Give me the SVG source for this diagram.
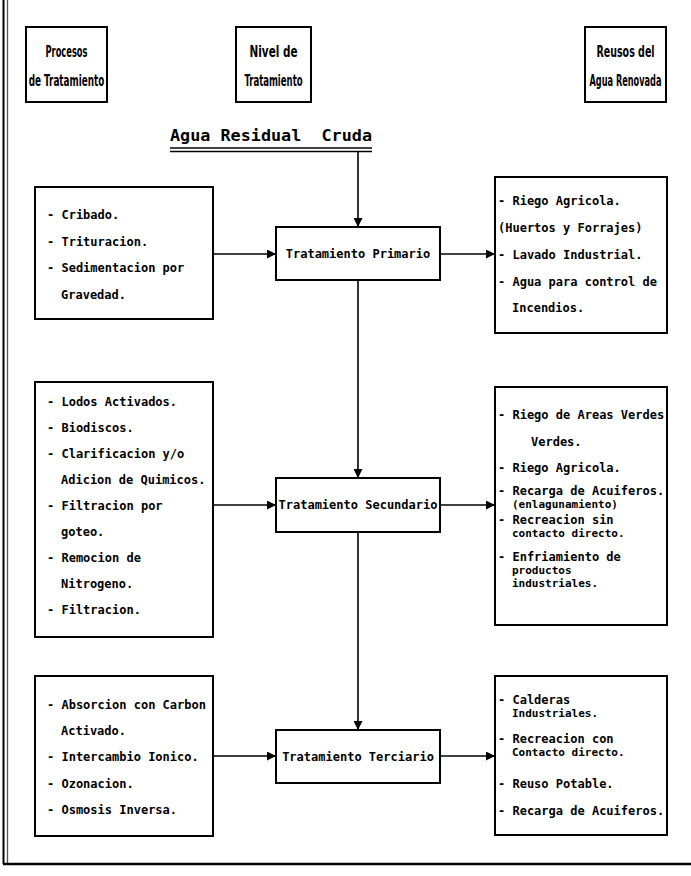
<svg xmlns="http://www.w3.org/2000/svg" width="691" height="876" viewBox="0 0 691 876">
<defs>
<style>
.bx{fill:#fff;stroke:#000;stroke-width:2}
.ln{stroke:#000;stroke-width:1.6;fill:none}
.h{font-family:"DejaVu Sans Condensed","DejaVu Sans",sans-serif;font-weight:bold;font-size:15px;text-anchor:middle;fill:#000}
.t{font-family:"DejaVu Sans Mono",monospace;font-weight:bold;font-size:12px;fill:#000}
.s{font-size:11px}
.c{text-anchor:middle}
.ti{font-family:"DejaVu Sans Mono",monospace;font-weight:bold;font-size:15px;fill:#000}
</style>
<marker id="ah" viewBox="0 0 10 10" refX="10" refY="5" markerWidth="9" markerHeight="9" markerUnits="userSpaceOnUse" orient="auto"><path d="M0,0 L10,5 L0,10 z" fill="#000"/></marker>
</defs>
<rect width="691" height="876" fill="#fff"/>
<g id="frame">
<line x1="3.5" y1="0" x2="3.5" y2="864" stroke="#000" stroke-width="2"/>
<line x1="7.5" y1="0" x2="7.5" y2="864" stroke="#555" stroke-width="1.3"/>
<line x1="3" y1="864" x2="691" y2="864" stroke="#000" stroke-width="2.5"/>
</g>
<g id="hdr-procesos">
<rect class="bx" x="26" y="27" width="81" height="75"/>
<text class="h" transform="translate(66.5 57) scale(0.6 1)" textLength="70" lengthAdjust="spacingAndGlyphs">Procesos</text>
<text class="h" transform="translate(66.5 86) scale(0.6 1)" textLength="126" lengthAdjust="spacingAndGlyphs">de Tratamiento</text>
</g>
<g id="hdr-nivel">
<rect class="bx" x="236" y="27" width="75" height="75"/>
<text class="h" transform="translate(273.5 57) scale(0.6 1)" textLength="80" lengthAdjust="spacingAndGlyphs">Nivel de</text>
<text class="h" transform="translate(273.5 86) scale(0.6 1)" textLength="97" lengthAdjust="spacingAndGlyphs">Tratamiento</text>
</g>
<g id="hdr-reusos">
<rect class="bx" x="585" y="27" width="81" height="75"/>
<text class="h" transform="translate(625.5 57) scale(0.6 1)" textLength="97" lengthAdjust="spacingAndGlyphs">Reusos del</text>
<text class="h" transform="translate(625.5 86) scale(0.6 1)" textLength="120" lengthAdjust="spacingAndGlyphs">Agua Renovada</text>
</g>
<g id="titulo">
<text class="ti" x="170" y="141" textLength="202" lengthAdjust="spacingAndGlyphs" xml:space="preserve">Agua Residual  Cruda</text>
<line x1="170" y1="148" x2="372" y2="148" stroke="#000" stroke-width="1.5"/>
<line x1="170" y1="151.5" x2="372" y2="151.5" stroke="#000" stroke-width="1.5"/>
</g>
<g id="connectors">
<line class="ln" x1="358" y1="152" x2="358" y2="227" marker-end="url(#ah)"/>
<line class="ln" x1="213" y1="254" x2="276" y2="254" marker-end="url(#ah)"/>
<line class="ln" x1="440" y1="254" x2="495" y2="254" marker-end="url(#ah)"/>
<line class="ln" x1="358" y1="280" x2="358" y2="478" marker-end="url(#ah)"/>
<line class="ln" x1="213" y1="505" x2="276" y2="505" marker-end="url(#ah)"/>
<line class="ln" x1="440" y1="505" x2="495" y2="505" marker-end="url(#ah)"/>
<line class="ln" x1="358" y1="532" x2="358" y2="730" marker-end="url(#ah)"/>
<line class="ln" x1="213" y1="756" x2="276" y2="756" marker-end="url(#ah)"/>
<line class="ln" x1="440" y1="756" x2="495" y2="756" marker-end="url(#ah)"/>
</g>
<g id="proc-primario">
<rect class="bx" x="35" y="187" width="178" height="132"/>
<text class="t" x="47" y="219">- Cribado.</text>
<text class="t" x="47" y="246">- Trituracion.</text>
<text class="t" x="47" y="272">- Sedimentacion por</text>
<text class="t" x="61" y="299">Gravedad.</text>
</g>
<g id="primario">
<rect class="bx" x="276" y="227" width="164" height="53"/>
<text class="t c" x="358" y="258">Tratamiento Primario</text>
</g>
<g id="reuso-primario">
<rect class="bx" x="495" y="177" width="172" height="156"/>
<text class="t" x="498" y="205">- Riego Agricola.</text>
<text class="t" x="498" y="232">(Huertos y Forrajes)</text>
<text class="t" x="498" y="259">- Lavado Industrial.</text>
<text class="t" x="498" y="286">- Agua para control de</text>
<text class="t" x="512" y="312">Incendios.</text>
</g>
<g id="proc-secundario">
<rect class="bx" x="35" y="382" width="178" height="255"/>
<text class="t" x="47" y="406">- Lodos Activados.</text>
<text class="t" x="47" y="432">- Biodiscos.</text>
<text class="t" x="47" y="458">- Clarificacion y/o</text>
<text class="t" x="61" y="484">Adicion de Quimicos.</text>
<text class="t" x="47" y="510">- Filtracion por</text>
<text class="t" x="61" y="536">goteo.</text>
<text class="t" x="47" y="562">- Remocion de</text>
<text class="t" x="61" y="588">Nitrogeno.</text>
<text class="t" x="47" y="614">- Filtracion.</text>
</g>
<g id="secundario">
<rect class="bx" x="276" y="478" width="164" height="54"/>
<text class="t c" x="358" y="509">Tratamiento Secundario</text>
</g>
<g id="reuso-secundario">
<rect class="bx" x="495" y="387" width="172" height="238"/>
<text class="t" x="498" y="419">- Riego de Areas Verdes</text>
<text class="t" x="531" y="446">Verdes.</text>
<text class="t" x="498" y="472">- Riego Agricola.</text>
<text class="t" x="498" y="495">- Recarga de Acuiferos.</text>
<text class="t s" x="512" y="508">(enlagunamiento)</text>
<text class="t" x="498" y="524">- Recreacion sin</text>
<text class="t s" x="512" y="537">contacto directo.</text>
<text class="t" x="498" y="561">- Enfriamiento de</text>
<text class="t s" x="512" y="574">productos</text>
<text class="t s" x="512" y="587">industriales.</text>
</g>
<g id="proc-terciario">
<rect class="bx" x="35" y="676" width="178" height="160"/>
<text class="t" x="47" y="709">- Absorcion con Carbon</text>
<text class="t" x="61" y="735">Activado.</text>
<text class="t" x="47" y="761">- Intercambio Ionico.</text>
<text class="t" x="47" y="788">- Ozonacion.</text>
<text class="t" x="47" y="814">- Osmosis Inversa.</text>
</g>
<g id="terciario">
<rect class="bx" x="276" y="730" width="164" height="53"/>
<text class="t c" x="358" y="761">Tratamiento Terciario</text>
</g>
<g id="reuso-terciario">
<rect class="bx" x="495" y="676" width="172" height="159"/>
<text class="t" x="498" y="704">- Calderas</text>
<text class="t s" x="512" y="717">Industriales.</text>
<text class="t" x="498" y="743">- Recreacion con</text>
<text class="t s" x="512" y="756">Contacto directo.</text>
<text class="t" x="498" y="788">- Reuso Potable.</text>
<text class="t" x="498" y="815">- Recarga de Acuiferos.</text>
</g>
</svg>
